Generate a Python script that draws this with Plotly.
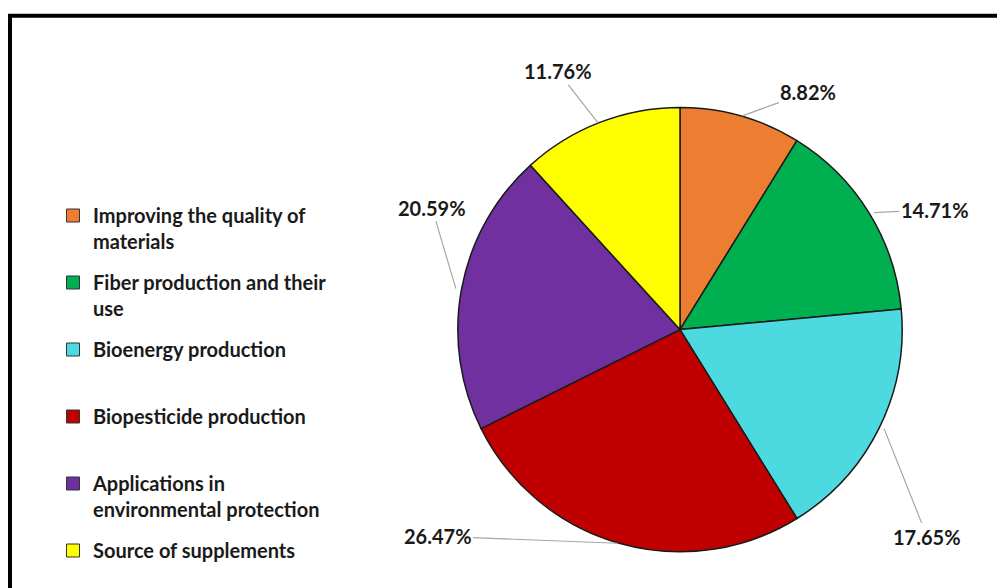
import math
import plotly.graph_objects as go

categories = [
    "Improving the quality of materials",
    "Fiber production and their use",
    "Bioenergy production",
    "Biopesticide production",
    "Applications in environmental protection",
    "Source of supplements",
]
legend_labels = [
    "Improving the quality of<br>materials",
    "Fiber production and their<br>use",
    "Bioenergy production<br>&nbsp;",
    "Biopesticide production<br>&nbsp;",
    "Applications in<br>environmental protection",
    "Source of supplements<br>&nbsp;",
]
values = [8.82, 14.71, 17.65, 26.47, 20.59, 11.76]
colors = ["#ED7D31", "#00B050", "#4DD9E0", "#C00000", "#7030A0", "#FFFF00"]

# label offsets (pixels) from slice edge point to label
label_offsets = [(66, -24), (61, -3), (43, 108), (-180, -7), (-24, -81), (-40, -51)]

W, H = 1005, 588
OFFX, OFFY = 8, 6  # page offset
CX, CY, R = 680 - OFFX, 336 - OFFY, 228
FONT = "Lato"

fig = go.Figure()
fig.add_trace(go.Pie(
    labels=categories,
    values=values,
    marker=dict(colors=colors, line=dict(color="#1a1a1a", width=1.5)),
    sort=False,
    direction="clockwise",
    rotation=0,
    textinfo="none",
    hoverinfo="label+percent",
    showlegend=False,
    domain=dict(x=[(CX - R) / W, (CX + R) / W], y=[1 - (CY + R) / H, 1 - (CY - R) / H]),
))

for i, (lab, col) in enumerate(zip(legend_labels, colors)):
    fig.add_trace(go.Scatter(
        x=[None], y=[None], mode="markers", name=lab, legendgroup=str(i),
        marker=dict(symbol="square", size=13, color=col, line=dict(color="#333333", width=1)),
    ))

total = sum(values)
cum = 0.0
annotations = []
for v, (dx, dy) in zip(values, label_offsets):
    mid = (cum + v / 2) / total * 2 * math.pi
    cum += v
    px = CX + R * math.sin(mid)
    py = CY - R * math.cos(mid)
    annotations.append(dict(
        x=px / W, y=1 - py / H, xref="paper", yref="paper",
        text=f"{v:.2f}%", showarrow=True, arrowhead=0, arrowwidth=1.2,
        arrowcolor="#A6A6A6", ax=dx, ay=dy, standoff=0,
        font=dict(family=FONT, size=20, color="#1a1a1a", weight="bold"),
    ))

fig.update_layout(
    width=W, height=H,
    margin=dict(l=0, r=0, t=0, b=0),
    paper_bgcolor="white", plot_bgcolor="white",
    xaxis=dict(visible=False), yaxis=dict(visible=False),
    annotations=annotations,
    legend=dict(
        x=45 / W, y=1 - 193 / H, xanchor="left", yanchor="top",
        font=dict(family=FONT, size=20, color="#1a1a1a", weight="bold"),
        valign="top", tracegroupgap=12, itemclick=False, itemdoubleclick=False,
    ),
    shapes=[dict(type="rect", xref="paper", yref="paper",
                 x0=2 / W, x1=1.05, y0=-0.05, y1=1 - 8 / H,
                 line=dict(color="black", width=4), layer="above")],
)

fig.write_html("out.html")
